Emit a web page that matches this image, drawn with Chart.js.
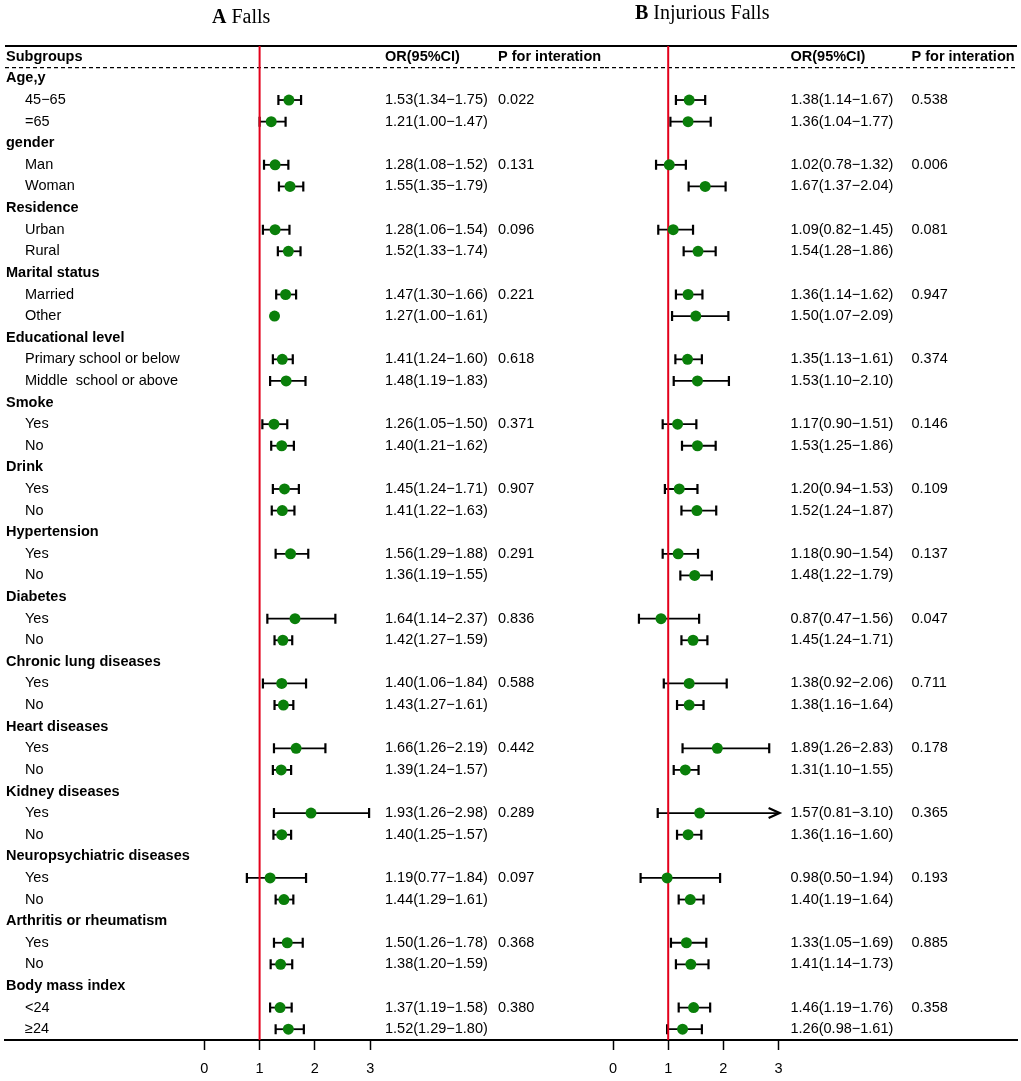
<!DOCTYPE html>
<html>
<head>
<meta charset="utf-8">
<script src="https://cdn.jsdelivr.net/npm/chart.js@4.4.1/dist/chart.umd.min.js"></script>
<style>
  html, body { margin: 0; padding: 0; background: #fff; overflow: hidden; }
  #wrap { position: relative; width: 1021px; height: 1081px; }
  .panel { position: absolute; top: 0; height: 1081px; }
  #panel-a { left: 0; width: 605px; }
  #panel-b { left: 605px; width: 416px; }
</style>
</head>
<body>
<div id="wrap">
  <div class="panel" id="panel-a"><canvas id="chart-a"></canvas></div>
  <div class="panel" id="panel-b"><canvas id="chart-b"></canvas></div>
</div>
<script>
// group headers and the two subgroups under each
const groups = ['Age,y', 'gender', 'Residence', 'Marital status', 'Educational level', 'Smoke', 'Drink',
  'Hypertension', 'Diabetes', 'Chronic lung diseases', 'Heart diseases', 'Kidney diseases',
  'Neuropsychiatric diseases', 'Arthritis or rheumatism', 'Body mass index'];
const subLabels = ['45−65', '=65', 'Man', 'Woman', 'Urban', 'Rural', 'Married', 'Other',
  'Primary school or below', 'Middle  school or above', 'Yes', 'No', 'Yes', 'No', 'Yes', 'No',
  'Yes', 'No', 'Yes', 'No', 'Yes', 'No', 'Yes', 'No', 'Yes', 'No', 'Yes', 'No', '<24', '≥24'];

// A Falls
const orA = [1.53, 1.21, 1.28, 1.55, 1.28, 1.52, 1.47, 1.27, 1.41, 1.48, 1.26, 1.40, 1.45, 1.41, 1.56,
  1.36, 1.64, 1.42, 1.40, 1.43, 1.66, 1.39, 1.93, 1.40, 1.19, 1.44, 1.50, 1.38, 1.37, 1.52];
const lowA = [1.34, 1.00, 1.08, 1.35, 1.06, 1.33, 1.30, 1.00, 1.24, 1.19, 1.05, 1.21, 1.24, 1.22, 1.29,
  1.19, 1.14, 1.27, 1.06, 1.27, 1.26, 1.24, 1.26, 1.25, 0.77, 1.29, 1.26, 1.20, 1.19, 1.29];
const highA = [1.75, 1.47, 1.52, 1.79, 1.54, 1.74, 1.66, 1.61, 1.60, 1.83, 1.50, 1.62, 1.71, 1.63, 1.88,
  1.55, 2.37, 1.59, 1.84, 1.61, 2.19, 1.57, 2.98, 1.57, 1.84, 1.61, 1.78, 1.59, 1.58, 1.80];
const pA = ['0.022', '0.131', '0.096', '0.221', '0.618', '0.371', '0.907', '0.291', '0.836', '0.588',
  '0.442', '0.289', '0.097', '0.368', '0.380'];
// the original panel A leaves these out
const noBarA = [7];   // Other: point only
const noMarkA = [15]; // Hypertension No: nothing drawn

// B Injurious Falls
const orB = [1.38, 1.36, 1.02, 1.67, 1.09, 1.54, 1.36, 1.50, 1.35, 1.53, 1.17, 1.53, 1.20, 1.52, 1.18,
  1.48, 0.87, 1.45, 1.38, 1.38, 1.89, 1.31, 1.57, 1.36, 0.98, 1.40, 1.33, 1.41, 1.46, 1.26];
const lowB = [1.14, 1.04, 0.78, 1.37, 0.82, 1.28, 1.14, 1.07, 1.13, 1.10, 0.90, 1.25, 0.94, 1.24, 0.90,
  1.22, 0.47, 1.24, 0.92, 1.16, 1.26, 1.10, 0.81, 1.16, 0.50, 1.19, 1.05, 1.14, 1.19, 0.98];
const highB = [1.67, 1.77, 1.32, 2.04, 1.45, 1.86, 1.62, 2.09, 1.61, 2.10, 1.51, 1.86, 1.53, 1.87, 1.54,
  1.79, 1.56, 1.71, 2.06, 1.64, 2.83, 1.55, 3.10, 1.60, 1.94, 1.64, 1.69, 1.73, 1.76, 1.61];
const pB = ['0.538', '0.006', '0.081', '0.947', '0.374', '0.146', '0.109', '0.137', '0.047', '0.711',
  '0.178', '0.365', '0.193', '0.885', '0.358'];

const xTicks = [0, 1, 2, 3];
const axisMax = 3; // anything past this gets an arrow

const FONT = '"Liberation Sans", Arial, sans-serif';
const SERIF = '"Liberation Serif", "Times New Roman", serif';
const rowOfSub = (k) => Math.floor(k / 2) * 3 + 1 + (k % 2);
const fmt = (v) => v.toFixed(2);

const makePlugin = (cfg) => ({
  id: 'forest',
  beforeDatasetsDraw(chart) {
    const { ctx, chartArea: area, scales: { x, y } } = chart;
    ctx.save();
    // top rule
    ctx.strokeStyle = '#000';
    ctx.lineWidth = 2;
    ctx.beginPath();
    ctx.moveTo(area.left, area.top);
    ctx.lineTo(area.right, area.top);
    ctx.stroke();
    // dashed rule under the header
    const dy = y.getPixelForValue(-0.5);
    ctx.lineWidth = 1.2;
    ctx.setLineDash([4, 3]);
    ctx.beginPath();
    ctx.moveTo(area.left, dy);
    ctx.lineTo(area.right, dy);
    ctx.stroke();
    ctx.setLineDash([]);

    // confidence intervals
    cfg.or.forEach((v, k) => {
      if (cfg.noBar.includes(k) || cfg.noMark.includes(k)) return;
      const py = y.getPixelForValue(rowOfSub(k));
      const x1 = x.getPixelForValue(cfg.low[k]);
      const over = cfg.high[k] > axisMax;
      const x2 = x.getPixelForValue(over ? axisMax : cfg.high[k]);
      ctx.lineWidth = 1.8;
      ctx.beginPath();
      ctx.moveTo(x1, py);
      ctx.lineTo(x2, py);
      ctx.stroke();
      ctx.lineWidth = 2.2;
      ctx.beginPath();
      ctx.moveTo(x1, py - 5);
      ctx.lineTo(x1, py + 5);
      if (over) {
        ctx.moveTo(x2 - 10, py - 5);
        ctx.lineTo(x2 + 1, py);
        ctx.lineTo(x2 - 10, py + 5);
      } else {
        ctx.moveTo(x2, py - 5);
        ctx.lineTo(x2, py + 5);
      }
      ctx.stroke();
    });

    // reference line at OR = 1
    const rx = x.getPixelForValue(1);
    ctx.strokeStyle = '#e3001b';
    ctx.lineWidth = 2;
    ctx.beginPath();
    ctx.moveTo(rx, area.top);
    ctx.lineTo(rx, area.bottom);
    ctx.stroke();
    ctx.restore();
  },
  afterDraw(chart) {
    const { ctx, scales: { y } } = chart;
    ctx.save();
    ctx.fillStyle = '#000';

    // panel title
    ctx.textBaseline = 'alphabetic';
    ctx.font = `bold 20px ${SERIF}`;
    ctx.fillText(cfg.title[0], cfg.titleX, cfg.titleY);
    const w = ctx.measureText(cfg.title[0] + ' ').width;
    ctx.font = `20px ${SERIF}`;
    ctx.fillText(cfg.title[1], cfg.titleX + w, cfg.titleY);

    ctx.textBaseline = 'middle';
    const hy = y.getPixelForValue(-1);
    ctx.font = `bold 14.5px ${FONT}`;
    if (cfg.labels) ctx.fillText('Subgroups', 6, hy);
    ctx.fillText('OR(95%CI)', cfg.orX, hy);
    ctx.fillText('P for interation', cfg.pX, hy);

    groups.forEach((g, i) => {
      if (cfg.labels) {
        ctx.font = `bold 14.5px ${FONT}`;
        ctx.fillText(g, 6, y.getPixelForValue(i * 3));
      }
      ctx.font = `14.5px ${FONT}`;
      ctx.fillText(cfg.p[i], cfg.pX, y.getPixelForValue(i * 3 + 1));
    });
    ctx.font = `14.5px ${FONT}`;
    cfg.or.forEach((v, k) => {
      const py = y.getPixelForValue(rowOfSub(k));
      if (cfg.labels) ctx.fillText(subLabels[k], 25, py);
      ctx.fillText(`${fmt(v)}(${fmt(cfg.low[k])}−${fmt(cfg.high[k])})`, cfg.orX, py);
    });
    ctx.restore();
  }
});

const makeChart = (id, cfg) => {
  const points = cfg.or
    .map((v, k) => ({ x: v, y: rowOfSub(k), k }))
    .filter((p) => !cfg.noMark.includes(p.k));
  return new Chart(document.getElementById(id), {
    type: 'scatter',
    data: {
      datasets: [{
        data: points,
        pointRadius: 5.5,
        pointHoverRadius: 5.5,
        backgroundColor: '#0a7f0a',
        borderWidth: 0
      }]
    },
    options: {
      responsive: true,
      maintainAspectRatio: false,
      animation: false,
      events: [],
      layout: { padding: cfg.padding, autoPadding: false },
      plugins: { legend: { display: false }, tooltip: { enabled: false } },
      scales: {
        x: {
          type: 'linear',
          min: cfg.xMin,
          max: cfg.xMax,
          afterBuildTicks: (s) => { s.ticks = xTicks.map((v) => ({ value: v })); },
          afterFit: (s) => { s.height = 41; },
          ticks: {
            color: '#000',
            font: { family: FONT, size: 14.5 },
            padding: 0,
            autoSkip: false,
            maxRotation: 0,
            callback: (v) => String(v)
          },
          grid: {
            display: true,
            drawOnChartArea: false,
            drawTicks: true,
            tickLength: 20,
            tickBorderDash: [9, 100],
            tickWidth: 1.5,
            tickColor: '#000'
          },
          border: { display: true, color: '#000', width: 2 }
        },
        y: { type: 'linear', display: false, min: -1.5, max: 44.5, reverse: true }
      }
    },
    plugins: [makePlugin(cfg)]
  });
};

// x = 0 sits at 204.3px (A) / 8px inside panel B, about 55.3px per unit
makeChart('chart-a', {
  title: ['A', 'Falls'], titleX: 212, titleY: 22.7,
  labels: true, orX: 385, pX: 498,
  or: orA, low: lowA, high: highA, p: pA, noBar: noBarA, noMark: noMarkA,
  padding: { top: 46, left: 5, right: 0, bottom: 0 },
  xMin: (5 - 204.3) / 55.3, xMax: (605 - 204.3) / 55.3
});
makeChart('chart-b', {
  title: ['B', 'Injurious Falls'], titleX: 30, titleY: 18.5,
  labels: false, orX: 185.5, pX: 306.5,
  or: orB, low: lowB, high: highB, p: pB, noBar: [], noMark: [],
  padding: { top: 46, left: 0, right: 4, bottom: 0 },
  xMin: (0 - 8) / 55.2, xMax: (412 - 8) / 55.2
});
</script>
</body>
</html>
